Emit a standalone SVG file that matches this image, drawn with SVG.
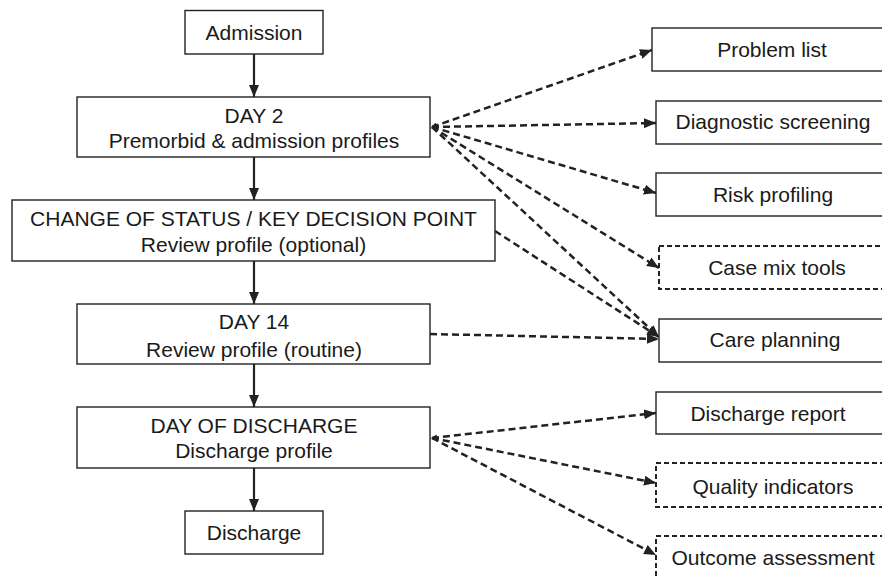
<svg xmlns="http://www.w3.org/2000/svg" width="882" height="578" viewBox="0 0 882 578">
<style>
.box{fill:#fff;stroke:#222;stroke-width:1.4}
.dbox{fill:#fff;stroke:#222;stroke-width:2;stroke-dasharray:5 3}
text{font-family:"Liberation Sans",Arial,sans-serif;font-size:21px;fill:#1a1a1a;text-anchor:middle}
.solid{stroke:#222;stroke-width:2.2;fill:none}
.dash{stroke:#222;stroke-width:2.5;fill:none;stroke-dasharray:7 4}
</style>
<defs>
<marker id="ah" markerUnits="userSpaceOnUse" markerWidth="14" markerHeight="12" refX="12" refY="5" orient="auto">
<path d="M0,0 L12,5 L0,10 Z" fill="#222"/>
</marker>
<marker id="dot" markerUnits="userSpaceOnUse" markerWidth="8" markerHeight="8" refX="1" refY="3" orient="auto">
<path d="M0,3 L6,0 L6,6 Z" fill="#222"/>
</marker>
</defs>
<g id="connectors">
<line class="solid" x1="254" y1="54" x2="254" y2="97" marker-end="url(#ah)"/>
<line class="solid" x1="254" y1="157" x2="254" y2="200" marker-end="url(#ah)"/>
<line class="solid" x1="254" y1="261" x2="254" y2="304" marker-end="url(#ah)"/>
<line class="solid" x1="254" y1="364" x2="254" y2="407" marker-end="url(#ah)"/>
<line class="solid" x1="254" y1="468" x2="254" y2="511" marker-end="url(#ah)"/>
<line class="dash" x1="432" y1="127" x2="652" y2="50" marker-start="url(#dot)" marker-end="url(#ah)"/>
<line class="dash" x1="432" y1="127" x2="656" y2="123" marker-end="url(#ah)"/>
<line class="dash" x1="432" y1="127" x2="656" y2="193" marker-end="url(#ah)"/>
<line class="dash" x1="432" y1="127" x2="659" y2="268" marker-end="url(#ah)"/>
<line class="dash" x1="432" y1="127" x2="659" y2="337" marker-end="url(#ah)"/>
<line class="dash" x1="495" y1="231" x2="659" y2="337" marker-end="url(#ah)"/>
<line class="dash" x1="430" y1="334" x2="659" y2="339" marker-end="url(#ah)"/>
<line class="dash" x1="432" y1="438" x2="656" y2="413" marker-start="url(#dot)" marker-end="url(#ah)"/>
<line class="dash" x1="432" y1="438" x2="656" y2="483" marker-end="url(#ah)"/>
<line class="dash" x1="432" y1="438" x2="656" y2="555" marker-end="url(#ah)"/>
</g>
<g id="admission"><rect class="box" x="185" y="10.5" width="138" height="43.5"/><text x="254" y="40">Admission</text></g>
<g id="day2"><rect class="box" x="77" y="97" width="353" height="60"/><text x="254" y="123">DAY 2</text><text x="254" y="148">Premorbid &amp; admission profiles</text></g>
<g id="change"><rect class="box" x="12" y="200" width="483" height="61"/><text x="253.5" y="226">CHANGE OF STATUS / KEY DECISION POINT</text><text x="253.5" y="252">Review profile (optional)</text></g>
<g id="day14"><rect class="box" x="77" y="304" width="353" height="60"/><text x="254" y="329">DAY 14</text><text x="254" y="357">Review profile (routine)</text></g>
<g id="dayofdischarge"><rect class="box" x="77" y="407" width="353" height="61"/><text x="254" y="433">DAY OF DISCHARGE</text><text x="254" y="458">Discharge profile</text></g>
<g id="discharge"><rect class="box" x="185" y="511" width="138" height="43"/><text x="254" y="540">Discharge</text></g>
<g id="problemlist"><rect class="box" x="652" y="28" width="240" height="43"/><text x="772" y="57">Problem list</text></g>
<g id="diagnostic"><rect class="box" x="656" y="101" width="240" height="43"/><text x="773" y="129">Diagnostic screening</text></g>
<g id="risk"><rect class="box" x="656" y="173" width="240" height="43"/><text x="773" y="202">Risk profiling</text></g>
<g id="casemix"><rect class="dbox" x="659" y="246" width="240" height="43"/><text x="777" y="275">Case mix tools</text></g>
<g id="careplanning"><rect class="box" x="659" y="319" width="240" height="43"/><text x="775" y="347">Care planning</text></g>
<g id="dischargereport"><rect class="box" x="656" y="392" width="240" height="42"/><text x="768" y="421">Discharge report</text></g>
<g id="quality"><rect class="dbox" x="656" y="463" width="240" height="44"/><text x="773" y="494">Quality indicators</text></g>
<g id="outcome"><rect class="dbox" x="656" y="536" width="240" height="60"/><text x="773" y="565">Outcome assessment</text></g>
</svg>
